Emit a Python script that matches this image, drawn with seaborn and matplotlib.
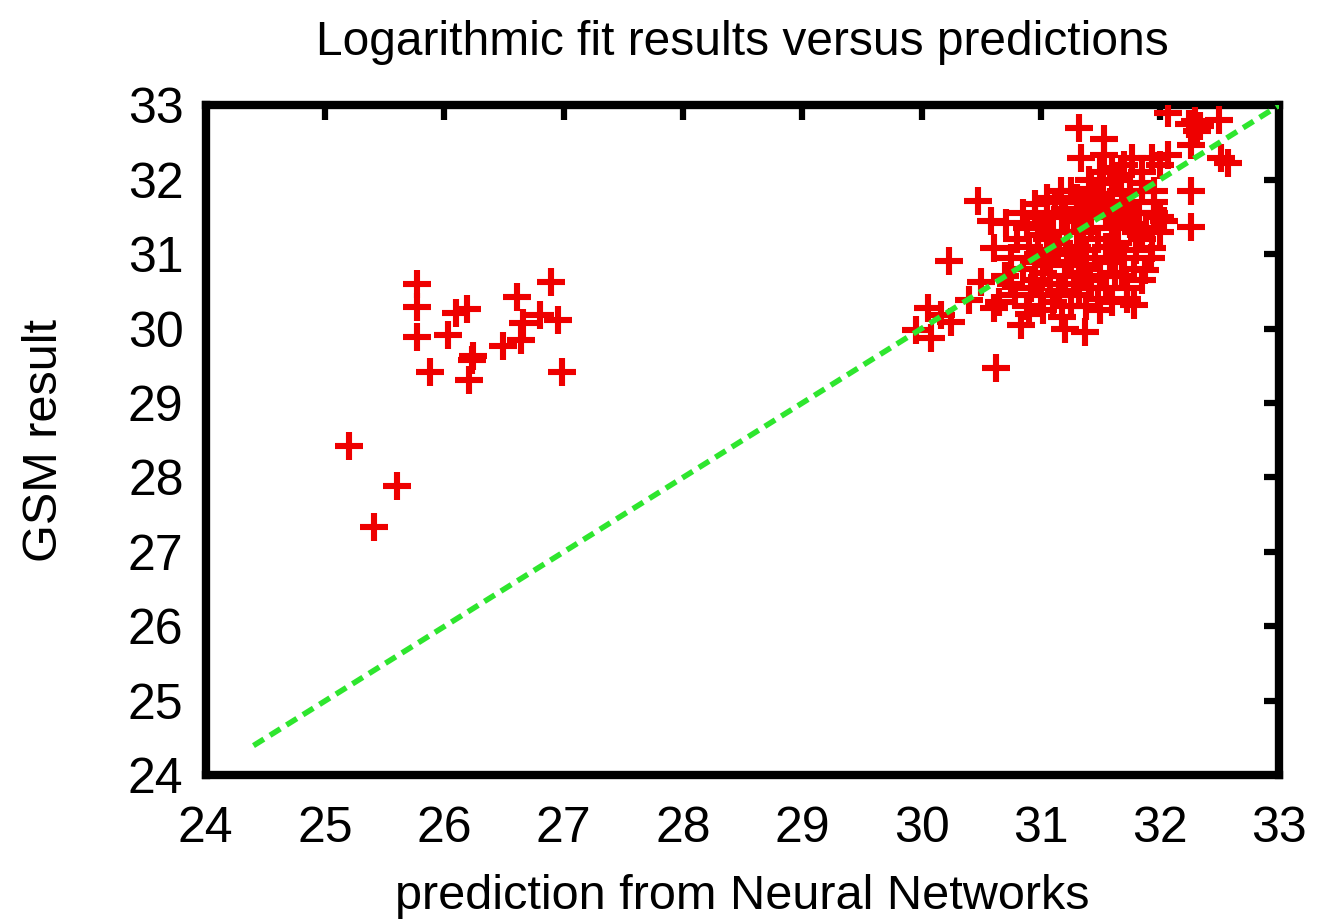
import matplotlib
matplotlib.use("Agg")
import matplotlib.pyplot as plt
import seaborn as sns
import pandas as pd

# Outlying group at low predicted values
low_pred = [25.77, 25.77, 25.77, 25.88, 26.10, 26.19, 26.03, 26.24, 26.23, 26.21,
            26.49, 26.61, 26.66, 26.64, 26.80, 26.89, 26.95, 26.99, 25.20, 25.60, 25.41]
low_gsm = [30.60, 30.29, 29.89, 29.42, 30.21, 30.26, 29.91, 29.63, 29.58, 29.31,
           29.76, 30.42, 30.08, 29.85, 30.18, 30.62, 30.12, 29.42, 28.42, 27.89, 27.34]

# Main group near the diagonal
main_pred = [31.32, 31.53, 31.34, 31.53, 30.47, 30.23, 30.62, 32.26, 32.26, 32.57,
             32.51, 32.29, 32.07, 32.49, 32.31, 32.26, 32.24, 32.33, 30.05, 30.16,
             30.08, 30.25, 29.95, 30.50, 30.61, 30.83, 31.20, 31.37, 31.78, 31.87,
             32.03, 31.93, 30.58, 30.61, 30.71, 30.95, 31.17, 31.45, 31.67, 31.93,
             32.07, 31.76, 30.75, 30.65, 30.90, 31.60, 31.15, 31.85, 31.95, 32.00,
             31.80, 31.70, 31.85, 30.40,
             31.00, 31.05, 31.10, 30.95, 31.02, 31.08, 31.15, 31.20, 31.25, 31.30,
             31.35, 31.40, 31.45, 31.50, 31.55, 31.60, 31.65, 31.70, 31.62, 31.55,
             31.48, 31.40, 31.35, 31.28, 31.20, 31.12, 31.05, 30.98, 30.90, 30.85,
             30.92, 31.00, 31.10, 31.25, 31.38, 31.50, 31.72, 31.78, 31.80, 31.75,
             31.68, 31.60, 31.52, 31.42, 31.30, 31.18, 31.10, 31.15, 31.22, 31.32,
             31.42, 31.58, 31.62, 31.48, 31.38, 31.28, 31.08, 30.98, 30.88, 30.80,
             30.75, 30.70, 30.78, 30.88, 31.02, 31.45, 31.55, 31.65, 31.72, 31.82,
             31.88, 31.92, 31.85, 31.72, 31.58, 31.42, 31.30, 31.22, 31.12, 31.05,
             30.95, 31.18, 31.32, 31.50, 31.68, 31.75, 31.62, 31.85, 31.95, 32.00,
             31.95, 30.95, 30.85, 31.05, 31.25, 31.35, 31.40, 31.50, 31.60, 31.70,
             31.85, 32.00]
main_gsm = [32.69, 32.55, 32.29, 32.33, 31.71, 30.91, 29.47, 31.85, 31.37, 32.22,
            32.29, 32.78, 32.89, 32.80, 32.65, 32.47, 32.75, 32.72, 30.27, 30.18,
            29.87, 30.09, 29.98, 30.63, 30.27, 30.05, 30.00, 29.96, 30.32, 30.79,
            31.44, 31.08, 31.44, 31.08, 31.42, 31.67, 31.85, 31.81, 32.06, 32.29,
            32.33, 32.29, 30.60, 30.35, 30.20, 30.35, 30.45, 31.85, 31.70, 31.50,
            31.30, 31.50, 31.20, 30.38,
            31.40, 31.20, 31.05, 30.90, 30.75, 30.60, 30.50, 30.70, 30.90, 31.10,
            31.30, 31.50, 31.65, 31.75, 31.55, 31.35, 31.15, 30.95, 30.75, 30.55,
            30.40, 30.65, 30.85, 31.45, 31.60, 31.70, 31.55, 31.25, 31.10, 30.80,
            30.55, 30.45, 30.35, 30.30, 30.30, 30.25, 30.55, 30.80, 31.05, 31.40,
            31.62, 31.80, 31.95, 31.88, 31.75, 31.50, 31.30, 31.15, 31.00, 30.75,
            30.55, 30.90, 31.10, 31.20, 31.05, 30.60, 30.85, 31.00, 31.35, 31.20,
            30.95, 30.70, 30.45, 30.30, 30.25, 30.95, 31.10, 31.50, 31.70, 31.55,
            31.35, 30.95, 30.65, 30.40, 31.70, 31.35, 31.55, 31.30, 31.05, 30.95,
            30.65, 30.15, 30.45, 30.70, 30.70, 31.85, 32.00, 31.95, 31.85, 31.30,
            31.55, 31.50, 31.55, 31.75, 31.85, 31.70, 32.00, 32.10, 32.15, 32.20,
            32.10, 32.20]

# Reference diagonal (perfect agreement)
diag = [24.4, 33.0]

pred = low_pred + main_pred
gsm = low_gsm + main_gsm
df = pd.DataFrame({"pred": pred, "gsm": gsm})

sns.set_theme(style="white")
plt.rcParams["font.family"] = ["Liberation Sans", "DejaVu Sans"]
for key in ("text.color", "axes.labelcolor", "xtick.color", "ytick.color"):
    plt.rcParams[key] = "black"

fig = plt.figure(figsize=(13.19, 9.22), dpi=100)
ax = fig.add_axes([0.156, 0.159, 0.814, 0.727])

sns.scatterplot(data=df, x="pred", y="gsm", marker="+", s=380,
                linewidth=4.4, color="#ee0000", ax=ax, zorder=3)
sns.lineplot(x=diag, y=diag, ax=ax, color="#2ee62e", linewidth=4.0,
             linestyle=(0, (2.2, 1.3)), zorder=4)

ax.set_xlim(24, 33)
ax.set_ylim(24, 33)
ax.set_xticks(range(24, 34))
ax.set_yticks(range(24, 34))

for sp in ax.spines.values():
    sp.set_visible(True)
    sp.set_linewidth(6)
    sp.set_color("black")

ax.tick_params(axis="both", which="major", direction="in", length=11, width=4.5,
               color="black", top=True, right=True, labelsize=36)
ax.tick_params(axis="x", pad=22)
ax.tick_params(axis="y", pad=16)

ax.set_xlabel("prediction from Neural Networks", fontsize=35, labelpad=16)
ax.set_ylabel("GSM result", fontsize=35, labelpad=44)
ax.set_title("Logarithmic fit results versus predictions", fontsize=34.5, pad=36)

fig.savefig("out.png", dpi=100)
